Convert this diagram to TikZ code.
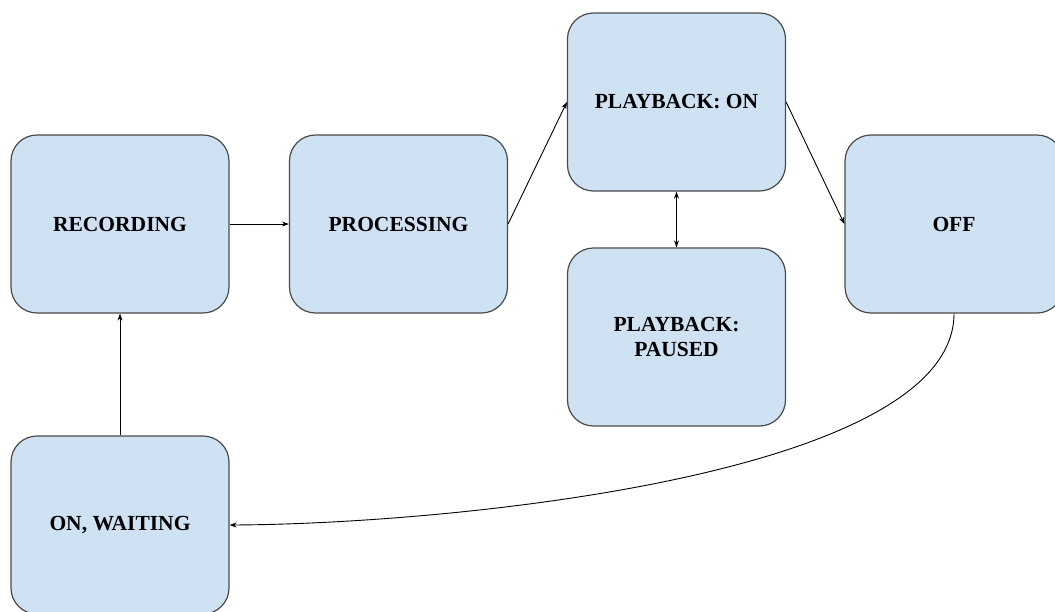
\documentclass[tikz,border=0pt]{standalone}
\usepackage{fontspec}
\setmainfont{Liberation Serif}
\usetikzlibrary{arrows.meta}
\definecolor{boxfill}{HTML}{CFE2F3}
\definecolor{boxline}{HTML}{4A4A4A}
\tikzset{
  state/.style={draw=boxline, fill=boxfill, line width=1.2pt, rounded corners=26pt,
    minimum width=218pt, minimum height=178pt, align=center,
    font=\fontsize{21.5}{25.5}\selectfont\bfseries, inner sep=0pt},
  link/.style={draw=black, line width=0.9pt, -{Stealth[length=7pt,width=5pt]}},
  link2/.style={draw=black, line width=0.9pt, {Stealth[length=7pt,width=5pt]}-{Stealth[length=7pt,width=5pt]}}
}
\begin{document}
\begin{tikzpicture}[x=1pt, y=-1pt]
  \useasboundingbox (0,0) rectangle (1055,611);
  \clip (0,0) rectangle (1055,611);
  \fill[white] (0,0) rectangle (1055,611);

  \node[state] (rec)   at (120,224)   {RECORDING};
  \node[state] (proc)  at (398.5,224) {PROCESSING};
  \node[state] (pon)   at (676.5,102) {PLAYBACK: ON};
  \node[state] (pause) at (676.5,337) {PLAYBACK:\\PAUSED};
  \node[state] (off)   at (954,224)   {OFF};
  \node[state] (wait)  at (120,525)   {ON, WAITING};

  \draw[link] (rec.east) -- (proc.west);
  \draw[link] (proc.east) -- (pon.west);
  \draw[link] (pon.east) -- (off.west);
  \draw[link2] (pon.south) -- (pause.north);
  \draw[link] (off.south) .. controls (954,475) and (450,524) .. (wait.east);
  \draw[link] (wait.north) -- (rec.south);
\end{tikzpicture}
\end{document}
